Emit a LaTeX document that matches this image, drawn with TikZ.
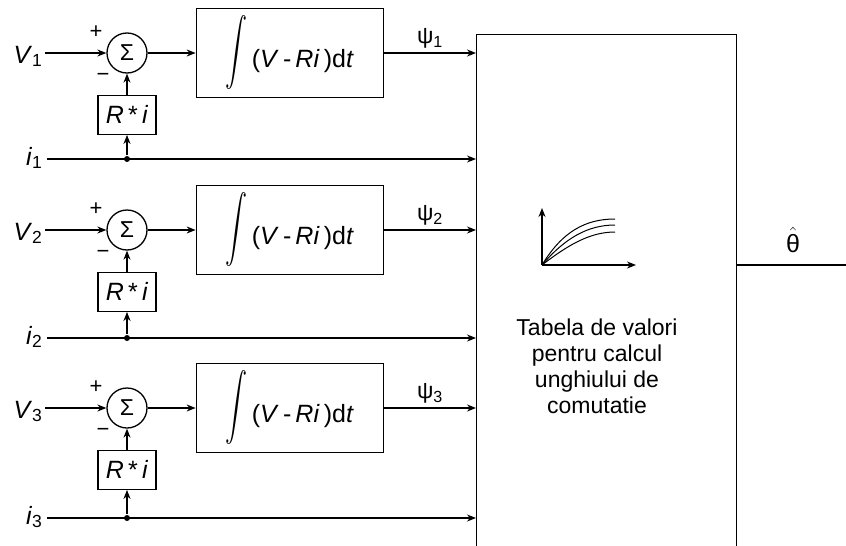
\documentclass[tikz,border=0pt]{standalone}
\usepackage{fontspec}
\setmainfont{Liberation Sans}
\usepackage{tikz}
\usetikzlibrary{arrows.meta,positioning}
\newcommand{\intsign}{\raisebox{-6pt}{\resizebox*{22pt}{74pt}{$\displaystyle\int$}}}

\begin{document}
\begin{tikzpicture}[x=1pt,y=-1pt,line width=1.3pt,
  font=\fontsize{23}{26}\selectfont,
  sum/.style={draw,circle,minimum size=40pt,inner sep=0pt,font=\fontsize{23}{23}\selectfont},
  blk/.style={draw,minimum width=187pt,minimum height=89pt,inner sep=0pt,font=\fontsize{25}{25}\selectfont},
  gain/.style={draw,minimum width=58pt,minimum height=39pt,inner sep=0pt,font=\fontsize{25}{25}\selectfont},
  sig/.style={inner sep=0pt,font=\fontsize{22}{22}\selectfont},
  lbl/.style={inner sep=0pt,anchor=base east,font=\fontsize{25}{25}\selectfont},
  dot/.style={circle,fill,inner sep=0pt,minimum size=6pt},
  ar/.style={-{Stealth[length=9pt,width=7pt]}}]
\useasboundingbox (0,0) rectangle (846,546);
% lookup table
\node[draw,minimum width=260pt,minimum height=540pt,anchor=north west] (tab) at (476,34) {};
\node[align=center] (txt) at (597,366) {Tabela de valori\\pentru calcul\\unghiului de\\comutatie};
\draw[ar] (542,265) -- (542,208);
\draw[ar] (542,265) -- (636,265);
\draw[line width=1pt] (542,265) .. controls (562,232) and (585,219) .. (615,219);
\draw[line width=1pt] (542,265) .. controls (565,238) and (588,225) .. (615,225);
\draw[line width=1pt] (542,265) .. controls (568,245) and (590,232) .. (615,232);
\coordinate (out) at (846,265);
\draw (tab.east |- out) -- (out);
\node[font=\fontsize{25}{25}\selectfont] (th) at (793,240) {\ensuremath{\hat{\mbox{θ}}}};
% phase 1
\node[sum] (s1) at (127,53) {Σ};
\node[gain,below=21pt of s1] (g1) {\textit{R}\,*\,\textit{i}};
\node[blk,right=48pt of s1] (int1) {\intsign\,(\textit{V}\,-\,\textit{Ri}\,)d\textit{t}};
\node[lbl] (v1) at (43,63) {\textit{V}\textsubscript{1}};
\node[lbl] (i1) at (43,165) {\textit{i}\textsubscript{1}};
\node[dot] (d1) at (127,159) {};
\node[sig] (p1) at (96,32) {+};
\node[sig] (m1) at (103,77) {−};
\draw[ar] ([xshift=2pt]v1.east |- s1) -- (s1);
\draw[ar] (s1) -- (int1);
\draw[ar] (g1) -- (s1);
\draw[ar] (d1) -- (g1);
\draw[ar] ([xshift=4pt]i1.east |- d1) -- (d1 -| tab.west);
\draw[ar] (int1) -- node[above=4pt,inner sep=0pt] (f1) {ψ\textsubscript{1}} (int1 -| tab.west);
% phase 2
\node[sum] (s2) at (127,230) {Σ};
\node[gain,below=21pt of s2] (g2) {\textit{R}\,*\,\textit{i}};
\node[blk,right=48pt of s2] (int2) {\intsign\,(\textit{V}\,-\,\textit{Ri}\,)d\textit{t}};
\node[lbl] (v2) at (43,240) {\textit{V}\textsubscript{2}};
\node[lbl] (i2) at (43,344) {\textit{i}\textsubscript{2}};
\node[dot] (d2) at (127,338) {};
\node[sig] (p2) at (96,209) {+};
\node[sig] (m2) at (103,254) {−};
\draw[ar] ([xshift=2pt]v2.east |- s2) -- (s2);
\draw[ar] (s2) -- (int2);
\draw[ar] (g2) -- (s2);
\draw[ar] (d2) -- (g2);
\draw[ar] ([xshift=4pt]i2.east |- d2) -- (d2 -| tab.west);
\draw[ar] (int2) -- node[above=4pt,inner sep=0pt] (f2) {ψ\textsubscript{2}} (int2 -| tab.west);
% phase 3
\node[sum] (s3) at (127,408) {Σ};
\node[gain,below=21pt of s3] (g3) {\textit{R}\,*\,\textit{i}};
\node[blk,right=48pt of s3] (int3) {\intsign\,(\textit{V}\,-\,\textit{Ri}\,)d\textit{t}};
\node[lbl] (v3) at (43,418) {\textit{V}\textsubscript{3}};
\node[lbl] (i3) at (43,524) {\textit{i}\textsubscript{3}};
\node[dot] (d3) at (127,518) {};
\node[sig] (p3) at (96,387) {+};
\node[sig] (m3) at (103,432) {−};
\draw[ar] ([xshift=2pt]v3.east |- s3) -- (s3);
\draw[ar] (s3) -- (int3);
\draw[ar] (g3) -- (s3);
\draw[ar] (d3) -- (g3);
\draw[ar] ([xshift=4pt]i3.east |- d3) -- (d3 -| tab.west);
\draw[ar] (int3) -- node[above=4pt,inner sep=0pt] (f3) {ψ\textsubscript{3}} (int3 -| tab.west);
\end{tikzpicture}
\end{document}
